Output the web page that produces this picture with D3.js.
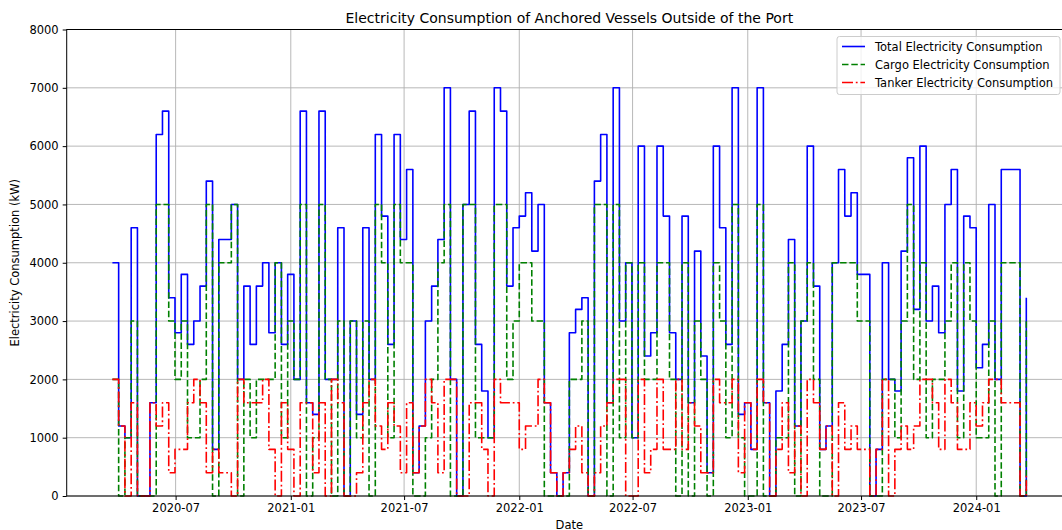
<!DOCTYPE html>
<html>
<head>
<meta charset="utf-8">
<script src="https://cdn.jsdelivr.net/npm/d3@7"></script>
<style>
  body { margin: 0; background: #fff; }
  svg { font-family: "DejaVu Sans", sans-serif; }
</style>
</head>
<body>
<div id="chart"></div>
<script>
const width = 1062;
const height = 530;

// one reading every 10 days, starting here
const startDate = Date.UTC(2020, 2, 22);
const stepDays = 10;

const total = [
  4000, 1200, 1000, 4600, 0, 0, 1600, 6200, 6600, 3400,
  2800, 3800, 2600, 3000, 3600, 5400, 800, 4400, 4400, 5000,
  2000, 3600, 2600, 3600, 4000, 2800, 4000, 2600, 3800, 2000,
  6600, 1600, 1400, 6600, 2000, 2000, 4600, 0, 3000, 1400,
  4600, 2000, 6200, 4800, 2600, 6200, 4400, 5600, 400, 1200,
  3000, 3600, 4400, 7000, 2000, 0, 5000, 6600, 2600, 1800,
  1000, 7000, 6600, 3600, 4600, 4800, 5200, 4200, 5000, 1600,
  400, 0, 400, 2800, 3200, 3400, 0, 5400, 6200, 1600,
  7000, 3000, 4000, 1000, 6000, 2400, 2800, 6000, 4800, 2800,
  2000, 4800, 1600, 4200, 2400, 400, 6000, 4600, 2600, 7000,
  1400, 1600, 800, 7000, 1600, 0, 1800, 2600, 4400, 1200,
  3000, 6000, 3600, 800, 1200, 4000, 5600, 4800, 5200, 3800,
  3800, 0, 800, 4000, 2000, 1800, 4200, 5800, 3200, 6000,
  3000, 3600, 2800, 5000, 5600, 1800, 4800, 4600, 2200, 2600,
  5000, 2000, 5600, 5600, 5600, 0, 3400
];

const cargo = [
  2000, 0, 1000, 3000, 0, 0, 0, 5000, 5000, 3000,
  2000, 3000, 1000, 1000, 2000, 5000, 0, 4000, 4000, 5000,
  0, 2000, 1000, 2000, 2000, 2000, 4000, 1000, 3000, 2000,
  5000, 0, 1000, 5000, 2000, 0, 3000, 0, 3000, 1000,
  3000, 0, 5000, 4000, 1000, 5000, 4000, 4000, 0, 0,
  1000, 2000, 4000, 5000, 0, 0, 5000, 5000, 1000, 1000,
  1000, 5000, 5000, 2000, 3000, 4000, 4000, 3000, 3000, 0,
  0, 0, 0, 2000, 2000, 3000, 0, 5000, 5000, 0,
  5000, 1000, 4000, 1000, 4000, 2000, 2000, 4000, 4000, 2000,
  0, 4000, 0, 3000, 2000, 0, 4000, 3000, 1000, 5000,
  1000, 0, 0, 5000, 0, 0, 1000, 1000, 4000, 0,
  3000, 4000, 2000, 0, 0, 4000, 4000, 4000, 4000, 3000,
  3000, 0, 0, 2000, 2000, 1000, 3000, 5000, 2000, 4000,
  1000, 2000, 2000, 3000, 4000, 1000, 4000, 3000, 1000, 1000,
  3000, 0, 4000, 4000, 4000, 0, 3000
];

const tanker = [
  2000, 1200, 0, 1600, 0, 0, 1600, 1200, 1600, 400,
  800, 800, 1600, 2000, 1600, 400, 800, 400, 400, 0,
  2000, 1600, 1600, 1600, 2000, 800, 0, 1600, 800, 0,
  1600, 1600, 400, 1600, 0, 2000, 1600, 0, 0, 400,
  1600, 2000, 1200, 800, 1600, 1200, 400, 1600, 400, 1200,
  2000, 1600, 400, 2000, 2000, 0, 0, 1600, 1600, 800,
  0, 2000, 1600, 1600, 1600, 800, 1200, 1200, 2000, 1600,
  400, 0, 400, 800, 1200, 400, 0, 400, 1200, 1600,
  2000, 2000, 0, 0, 2000, 400, 800, 2000, 800, 800,
  2000, 800, 1600, 1200, 400, 400, 2000, 1600, 1600, 2000,
  400, 1600, 800, 2000, 1600, 0, 800, 1600, 400, 1200,
  0, 2000, 1600, 800, 1200, 0, 1600, 800, 1200, 800,
  800, 0, 800, 2000, 0, 800, 1200, 800, 1200, 2000,
  2000, 1600, 800, 2000, 1600, 800, 800, 1600, 1200, 1600,
  2000, 2000, 1600, 1600, 1600, 0, 400
];

const xTickLabels = ["2020-07", "2021-01", "2021-07", "2022-01", "2022-07", "2023-01", "2023-07", "2024-01"];
const yTickValues = [0, 1000, 2000, 3000, 4000, 5000, 6000, 7000, 8000];

const series = [
  { name: "Total Electricity Consumption", values: total, color: "#0000ff", dash: null },
  { name: "Cargo Electricity Consumption", values: cargo, color: "#008000", dash: "6.5,2.8" },
  { name: "Tanker Electricity Consumption", values: tanker, color: "#ff0000", dash: "11,2.8,1.8,2.8" }
];

const dates = total.map((d, i) => new Date(startDate + i * stepDays * 864e5));

const plotLeft = 66.7, plotRight = 1072, plotTop = 29.5, plotBottom = 496;

const svg = d3.select("#chart").append("svg")
  .attr("width", width)
  .attr("height", height);

// matplotlib-like 5% margins on the x range
const first = dates[0], last = dates[dates.length - 1];
const pad = (last - first) * 0.05;
const x = d3.scaleUtc()
  .domain([new Date(+first - pad), new Date(+last + pad)])
  .range([plotLeft, plotRight]);

const y = d3.scaleLinear().domain([0, 8000]).range([plotBottom, plotTop]);

const parseMonth = d3.utcParse("%Y-%m");
const xTicks = xTickLabels.map(parseMonth);

// grid
const grid = svg.append("g");
grid.selectAll(".gx").data(xTicks).join("line")
  .attr("x1", d => x(d)).attr("x2", d => x(d))
  .attr("y1", plotTop).attr("y2", plotBottom)
  .attr("stroke", "#b0b0b0").attr("stroke-width", 0.9);
grid.selectAll(".gy").data(yTickValues).join("line")
  .attr("x1", plotLeft).attr("x2", plotRight)
  .attr("y1", d => y(d)).attr("y2", d => y(d))
  .attr("stroke", "#b0b0b0").attr("stroke-width", 0.9);

// lines
const line = d3.line()
  .x((d, i) => x(dates[i]))
  .y(d => y(d))
  .curve(d3.curveStepAfter);

svg.append("g").selectAll("path")
  .data(series)
  .join("path")
  .attr("d", d => line(d.values))
  .attr("fill", "none")
  .attr("stroke", d => d.color)
  .attr("stroke-width", 1.6)
  .attr("stroke-dasharray", d => d.dash)
  .attr("stroke-linejoin", "round");

// frame
svg.append("rect")
  .attr("x", plotLeft).attr("y", plotTop)
  .attr("width", plotRight - plotLeft).attr("height", plotBottom - plotTop)
  .attr("fill", "none").attr("stroke", "#000").attr("stroke-width", 1);

// axes
const xAxis = svg.append("g")
  .attr("transform", `translate(0,${plotBottom})`)
  .call(d3.axisBottom(x).tickValues(xTicks).tickFormat(d3.utcFormat("%Y-%m")).tickSizeOuter(0).tickSize(4).tickPadding(4));
const yAxis = svg.append("g")
  .attr("transform", `translate(${plotLeft},0)`)
  .call(d3.axisLeft(y).tickValues(yTickValues).tickFormat(d3.format("d")).tickSizeOuter(0).tickSize(4).tickPadding(4));

[xAxis, yAxis].forEach(a => {
  a.select(".domain").remove();
  a.selectAll("text").attr("font-family", "DejaVu Sans").attr("font-size", 11.5).attr("fill", "#000");
  a.selectAll("line").attr("stroke", "#000");
});

// title and labels
svg.append("text")
  .attr("x", (plotLeft + plotRight) / 2).attr("y", 23)
  .attr("text-anchor", "middle")
  .attr("font-size", 14)
  .text("Electricity Consumption of Anchored Vessels Outside of the Port");

svg.append("text")
  .attr("x", (plotLeft + plotRight) / 2).attr("y", 528.5)
  .attr("text-anchor", "middle")
  .attr("font-size", 11.5)
  .text("Date");

svg.append("text")
  .attr("transform", `translate(19,${(plotTop + plotBottom) / 2}) rotate(-90)`)
  .attr("text-anchor", "middle")
  .attr("font-size", 11.5)
  .text("Electricity Consumption (kW)");

// legend
const legend = svg.append("g").attr("transform", "translate(837,36.5)");
legend.append("rect")
  .attr("width", 223).attr("height", 58)
  .attr("rx", 2.5)
  .attr("fill", "#fff").attr("fill-opacity", 0.8)
  .attr("stroke", "#cccccc");

const item = legend.selectAll(".item").data(series).join("g")
  .attr("transform", (d, i) => `translate(0,${10 + i * 18})`);
item.append("line")
  .attr("x1", 5).attr("x2", 28)
  .attr("stroke", d => d.color)
  .attr("stroke-width", 1.6)
  .attr("stroke-dasharray", d => d.dash);
item.append("text")
  .attr("x", 38).attr("y", 4)
  .attr("font-size", 11.5)
  .text(d => d.name);
</script>
</body>
</html>
